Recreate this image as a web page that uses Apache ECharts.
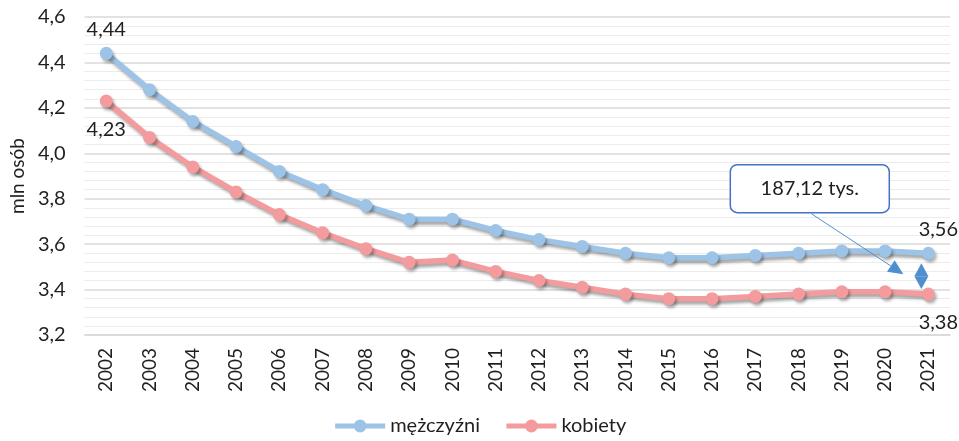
<!DOCTYPE html>
<html>
<head>
<meta charset="utf-8">
<script src="https://cdn.jsdelivr.net/npm/echarts@6/dist/echarts.min.js"></script>
<style>
  html, body { margin: 0; padding: 0; background: #fff; }
  #chart { width: 959px; height: 441px; }
</style>
</head>
<body>
<div id="chart"></div>
<script>
const years = ['2002', '2003', '2004', '2005', '2006', '2007', '2008', '2009', '2010', '2011',
  '2012', '2013', '2014', '2015', '2016', '2017', '2018', '2019', '2020', '2021']
const men = [4.44, 4.28, 4.14, 4.03, 3.92, 3.84, 3.77, 3.71, 3.71, 3.66,
  3.62, 3.59, 3.56, 3.54, 3.54, 3.55, 3.56, 3.57, 3.57, 3.56]
const women = [4.23, 4.07, 3.94, 3.83, 3.73, 3.65, 3.58, 3.52, 3.53, 3.48,
  3.44, 3.41, 3.38, 3.36, 3.36, 3.37, 3.38, 3.39, 3.39, 3.38]
const diffLabel = '187,12 tys.'

const font = 'Lato, "Open Sans", sans-serif'
const textColor = '#1f1f1f'
const fmt = (v, d) => v.toFixed(d).replace('.', ',')

// first and last point get a value label
function withLabels (data, pos) {
  return data.map((v, i) => {
    if (i !== 0 && i !== data.length - 1) return v
    return {
      value: v,
      label: {
        show: true,
        position: pos,
        distance: pos === 'top' ? 7 : 12,
        offset: i === 0 ? [0, 0] : [10, 0],
        formatter: p => fmt(p.value, 2),
        fontFamily: font,
        fontSize: 20,
        color: textColor
      }
    }
  })
}

function lineSeries (name, data, color, pos) {
  return {
    name: name,
    type: 'line',
    data: withLabels(data, pos),
    symbol: 'circle',
    symbolSize: 13,
    lineStyle: {
      width: 5.5,
      color: color,
      shadowColor: 'rgba(0,0,0,0.35)',
      shadowBlur: 3,
      shadowOffsetX: 2,
      shadowOffsetY: 3
    },
    itemStyle: {
      color: color,
      shadowColor: 'rgba(0,0,0,0.3)',
      shadowBlur: 3,
      shadowOffsetX: 2,
      shadowOffsetY: 3
    },
    emphasis: { disabled: true },
    z: 3
  }
}

const chart = echarts.init(document.getElementById('chart'))
chart.setOption({
  animation: false,
  textStyle: { fontFamily: font },
  grid: { left: 81, right: 9, top: 17, bottom: 106 },
  legend: {
    bottom: 0,
    left: 'center',
    itemWidth: 50,
    itemHeight: 16,
    itemGap: 24,
    lineStyle: { width: 5 },
    textStyle: { fontFamily: font, fontSize: 20, color: textColor },
    data: ['mężczyźni', 'kobiety']
  },
  xAxis: {
    type: 'category',
    data: years,
    boundaryGap: true,
    axisLine: { show: true, lineStyle: { color: '#d9d9d9', width: 1.5 } },
    axisTick: { show: false },
    axisLabel: {
      rotate: 90,
      margin: 13,
      fontFamily: font,
      fontSize: 19,
      color: textColor
    }
  },
  yAxis: {
    type: 'value',
    min: 3.2,
    max: 4.6,
    interval: 0.2,
    name: 'mln osób',
    nameLocation: 'middle',
    nameGap: 56,
    nameTextStyle: { fontFamily: font, fontSize: 19, color: textColor },
    axisLine: { show: false },
    axisTick: { show: false },
    axisLabel: {
      margin: 19,
      fontFamily: font,
      fontSize: 20,
      color: textColor,
      formatter: v => fmt(v, 1)
    },
    splitLine: { lineStyle: { color: '#d9d9d9', width: 1.5 } },
    minorTick: { show: false, splitNumber: 5 },
    minorSplitLine: { show: true, lineStyle: { color: '#ececec', width: 1 } }
  },
  series: [
    lineSeries('mężczyźni', men, '#9dc3e6', 'top'),
    lineSeries('kobiety', women, '#f39b9d', 'bottom')
  ]
})

// callout with the 2021 difference, placed relative to the axes
function px (cat, val) {
  return chart.convertToPixel({ gridIndex: 0 }, [cat, val])
}
const last = years.length - 1
const pm = px(last, men[last])
const pw = px(last, women[last])

const boxL = px(15, 0)[0] - 25
const boxT = px(0, 3.95)[1]
const boxW = 159
const boxH = 48

const tip = [pm[0] - 25, pm[1] + 21]
const from = [boxL + 81, boxT + boxH + 1]
const dx = tip[0] - from[0]
const dy = tip[1] - from[1]
const len = Math.sqrt(dx * dx + dy * dy)
const ux = dx / len
const uy = dy / len
const headL = 15
const headW = 7
const base = [tip[0] - ux * headL, tip[1] - uy * headL]

const arrowColor = '#4f8fcf'
const dax = pm[0] - 7
const daTop = pm[1] + 10
const daBot = pw[1] - 5
const daMid = (daTop + daBot) / 2

chart.setOption({
  graphic: [
    {
      type: 'rect',
      shape: { x: boxL, y: boxT, width: boxW, height: boxH, r: 7 },
      style: { fill: '#fff', stroke: '#4472c4', lineWidth: 1.5 },
      z: 10
    },
    {
      type: 'text',
      x: boxL + boxW / 2,
      y: boxT + boxH / 2,
      style: {
        text: diffLabel,
        fontFamily: font,
        fontSize: 20,
        fill: textColor,
        align: 'center',
        verticalAlign: 'middle'
      },
      z: 11
    },
    {
      type: 'line',
      shape: { x1: from[0], y1: from[1], x2: base[0], y2: base[1] },
      style: { stroke: arrowColor, lineWidth: 1 },
      z: 10
    },
    {
      type: 'polygon',
      shape: {
        points: [
          tip,
          [base[0] - uy * headW, base[1] + ux * headW],
          [base[0] + uy * headW, base[1] - ux * headW]
        ]
      },
      style: { fill: arrowColor },
      z: 10
    },
    {
      type: 'polygon',
      shape: { points: [[dax, daTop], [dax - 7, daMid], [dax + 7, daMid]] },
      style: { fill: arrowColor },
      z: 10
    },
    {
      type: 'polygon',
      shape: { points: [[dax, daBot], [dax - 7, daMid], [dax + 7, daMid]] },
      style: { fill: arrowColor },
      z: 10
    }
  ]
})
</script>
</body>
</html>
